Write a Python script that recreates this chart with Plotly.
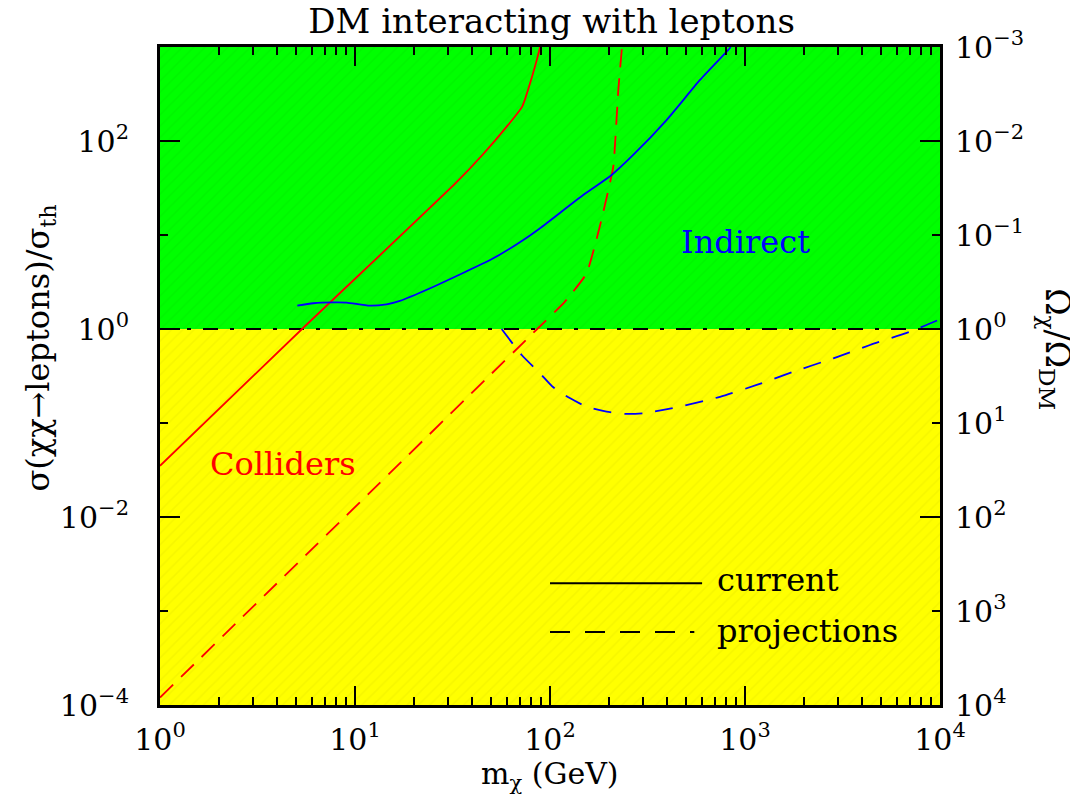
import math
import plotly.graph_objects as go

# ---------------- data ----------------
coll_cur_x = [1, 5.35, 33, 45, 60, 72, 79, 85.5, 89]
coll_cur_y = [0.035, 1, 36, 71, 142, 232, 411, 725, 1000]

coll_proj_x = [1, 86, 119, 154, 180, 211, 224, 234]
coll_proj_y = [1.2e-4, 1, 1.94, 3.9, 12.3, 53, 349, 1000]

ind_cur_x = [5.06, 6.11, 7.74, 9.06, 11.9, 14.5, 17.0, 24.3, 33.2, 51.2, 73, 88.9,
             148, 207, 267, 396, 588, 821, 845]
ind_cur_y = [1.77, 1.88, 1.92, 1.91, 1.77, 1.83, 1.99, 2.71, 3.66, 5.65, 8.85, 11.8,
             26.6, 43.5, 71, 167, 446, 930, 1000]

ind_proj_x = [56.5, 71.6, 88.9, 104, 127, 154, 195, 243, 301, 381, 483, 745, 1148,
              1770, 2840, 4375, 7020, 10000]
ind_proj_y = [1.0, 0.529, 0.338, 0.24, 0.183, 0.149, 0.132, 0.125, 0.127, 0.138,
              0.152, 0.19, 0.254, 0.351, 0.488, 0.676, 0.936, 1.27]

x_range = [1, 1e4]
y_range = [1e-4, 1e3]
x_major = [1, 10, 100, 1000, 10000]
x_major_text = ["10<sup>0</sup>", "10<sup>1</sup>", "10<sup>2</sup>", "10<sup>3</sup>", "10<sup>4</sup>"]
x_minor = [m * d for d in [1, 10, 100, 1000] for m in range(2, 10)]
y_major = [1e-4, 1e-2, 1, 1e2]
y_major_text = ["10<sup>−4</sup>", "10<sup>−2</sup>", "10<sup>0</sup>", "10<sup>2</sup>"]
y_minor = [1e-3, 1e-1, 10, 1e3]
omega_vals = [1e-3, 1e-2, 1e-1, 1, 10, 100, 1000, 10000]
omega_text = ["10<sup>−3</sup>", "10<sup>−2</sup>", "10<sup>−1</sup>", "10<sup>0</sup>",
              "10<sup>1</sup>", "10<sup>2</sup>", "10<sup>3</sup>", "10<sup>4</sup>"]

FONT = "DejaVu Serif"
RED = "#ff0000"
BLUE = "#0000ff"
TICKSIZE = 30

fig = go.Figure()

# regions
fig.add_trace(go.Scatter(
    x=[x_range[0], x_range[1], x_range[1], x_range[0]],
    y=[y_range[0], y_range[0], 1, 1],
    fill="toself", mode="none", fillcolor="#ffff00",
    fillpattern=dict(shape="/", fgcolor="#eeee00", bgcolor="#ffff00", size=8, solidity=0.2),
    hoverinfo="skip", showlegend=False))
fig.add_trace(go.Scatter(
    x=[x_range[0], x_range[1], x_range[1], x_range[0]],
    y=[1, 1, y_range[1], y_range[1]],
    fill="toself", mode="none", fillcolor="#00ff00",
    fillpattern=dict(shape="/", fgcolor="#00ee00", bgcolor="#00ff00", size=8, solidity=0.2),
    hoverinfo="skip", showlegend=False))

# Omega = Omega_DM line (sigma = sigma_th)
fig.add_trace(go.Scatter(x=x_range, y=[1, 1], mode="lines",
                         line=dict(color="black", width=2, dash="15px,12px,4px,12px"),
                         showlegend=False))

# curves
fig.add_trace(go.Scatter(x=coll_cur_x, y=coll_cur_y, mode="lines",
                         line=dict(color=RED, width=1.8, shape="spline", smoothing=0.5),
                         showlegend=False))
fig.add_trace(go.Scatter(x=coll_proj_x, y=coll_proj_y, mode="lines",
                         line=dict(color=RED, width=1.8, dash="18px,11px", shape="spline", smoothing=0.4),
                         showlegend=False))
fig.add_trace(go.Scatter(x=ind_cur_x, y=ind_cur_y, mode="lines",
                         line=dict(color=BLUE, width=1.8, shape="spline", smoothing=0.6),
                         showlegend=False))
fig.add_trace(go.Scatter(x=ind_proj_x, y=ind_proj_y, mode="lines",
                         line=dict(color=BLUE, width=1.8, dash="18px,13px", shape="spline", smoothing=0.6),
                         showlegend=False))

# invisible trace to activate the right-hand axis
fig.add_trace(go.Scatter(x=[1], y=[1], yaxis="y2", mode="markers",
                         marker=dict(opacity=0), hoverinfo="skip", showlegend=False))

# the page body adds an 8px offset; the figure is sized to compensate
fig.update_layout(
    width=1070, height=786,
    margin=dict(l=152, r=138, t=39, b=89, autoexpand=False),
    paper_bgcolor="white", plot_bgcolor="white",
    font=dict(family=FONT, color="black", size=26),
    title=dict(text="DM interacting with leptons", x=0.508, xanchor="center",
               y=0.983, yanchor="middle", font=dict(family=FONT, size=34)),
    xaxis=dict(type="log", range=[math.log10(x_range[0]), math.log10(x_range[1])],
               tickmode="array", tickvals=x_major, ticktext=x_major_text,
               ticks="inside", ticklen=19, tickwidth=2, tickcolor="black",
               minor=dict(tickmode="array", tickvals=x_minor, ticks="inside",
                          ticklen=8, tickwidth=1.5, tickcolor="black", showgrid=False),
               showline=True, linecolor="black", linewidth=3, mirror="ticks",
               showgrid=False, zeroline=False, automargin=False,
               ticklabelstandoff=6,
               tickfont=dict(family=FONT, size=TICKSIZE)),
    yaxis=dict(type="log", range=[math.log10(y_range[0]), math.log10(y_range[1])],
               tickmode="array", tickvals=y_major, ticktext=y_major_text,
               ticks="inside", ticklen=20, tickwidth=2, tickcolor="black",
               minor=dict(tickmode="array", tickvals=y_minor, ticks="inside",
                          ticklen=8, tickwidth=2, tickcolor="black", showgrid=False),
               showline=True, linecolor="black", linewidth=3, mirror="ticks",
               showgrid=False, zeroline=False, automargin=False,
               ticklabelstandoff=22,
               tickfont=dict(family=FONT, size=TICKSIZE)),
    yaxis2=dict(type="log", overlaying="y", side="right",
                range=[math.log10(1 / y_range[0]), math.log10(1 / y_range[1])],
                tickmode="array", tickvals=omega_vals, ticktext=omega_text,
                ticks="", showline=False, showgrid=False, zeroline=False,
                automargin=False, ticklabelstandoff=14,
                tickfont=dict(family=FONT, size=TICKSIZE)),
)

# axis titles
fig.add_annotation(text="m<sub>χ</sub> (GeV)", xref="paper", yref="paper",
                   x=0.5, y=-0.107, xanchor="center", yanchor="middle", showarrow=False,
                   font=dict(family=FONT, size=30))
fig.add_annotation(text="σ(χχ→leptons)/σ<sub>th</sub>", xref="paper", yref="paper",
                   x=-0.154, y=0.543, xanchor="center", yanchor="middle",
                   textangle=-90, showarrow=False,
                   font=dict(family=FONT, size=32))
fig.add_annotation(text="Ω<sub>χ</sub>/Ω<sub>DM</sub>", xref="paper", yref="paper",
                   x=1.148, y=0.54, xanchor="center", yanchor="middle",
                   textangle=90, showarrow=False,
                   font=dict(family=FONT, size=33))

# region labels
fig.add_annotation(text="Indirect", x=math.log10(1000), y=math.log10(8.4), showarrow=False,
                   xanchor="center", yanchor="middle",
                   font=dict(family=FONT, size=32, color=BLUE))
fig.add_annotation(text="Colliders", x=math.log10(4.27), y=math.log10(0.037), showarrow=False,
                   xanchor="center", yanchor="middle",
                   font=dict(family=FONT, size=32, color=RED))

# legend (drawn in paper coordinates)
fig.add_shape(type="line", xref="paper", yref="paper", x0=0.5, x1=0.695, y0=0.185, y1=0.185,
              line=dict(color="black", width=2))
fig.add_shape(type="line", xref="paper", yref="paper", x0=0.5, x1=0.685, y0=0.111, y1=0.111,
              line=dict(color="black", width=2, dash="20px,15px"))
fig.add_annotation(text="current", xref="paper", yref="paper", x=0.712, y=0.19,
                   xanchor="left", yanchor="middle", showarrow=False,
                   font=dict(family=FONT, size=32))
fig.add_annotation(text="projections", xref="paper", yref="paper", x=0.712, y=0.112,
                   xanchor="left", yanchor="middle", showarrow=False,
                   font=dict(family=FONT, size=32))

fig.write_html("out.html")
